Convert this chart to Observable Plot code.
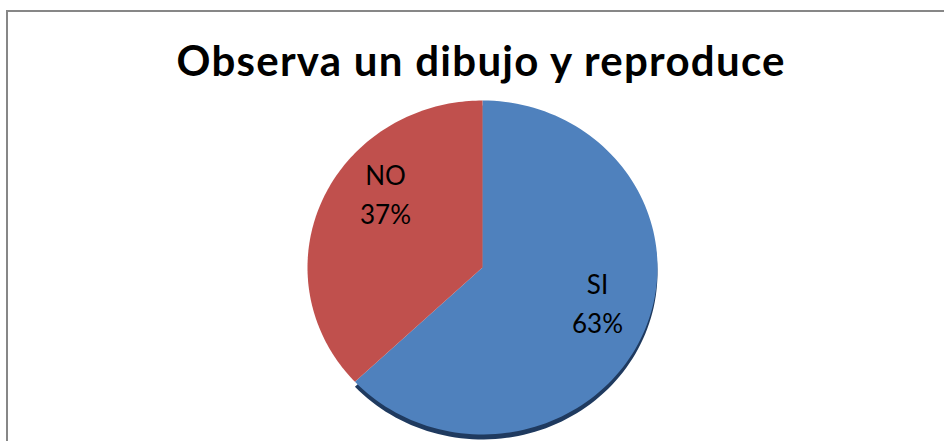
<!DOCTYPE html>
<html>
<head>
<meta charset="utf-8">
<script src="https://cdn.jsdelivr.net/npm/d3@7"></script>
<script src="https://cdn.jsdelivr.net/npm/@observablehq/plot@0.6"></script>
<style>
  html, body { margin: 0; padding: 0; background: #fff; overflow: hidden; width: 944px; height: 441px; }
  #frame { position: absolute; left: 6px; top: 10px; width: 1200px; height: 800px; border: 2px solid #878787; box-sizing: border-box; }
  #chart { position: absolute; left: 0; top: 0; }
</style>
</head>
<body>
<div id="frame"></div>
<div id="chart"></div>
<script>
const title = "Observa un dibujo y reproduce";
const categories = ["SI", "NO"];
const values = [63, 37];
const percentLabels = ["63%", "37%"];
const colors = ["#4F81BD", "#C0504D"];
const sideColor = "#1F3A5F";

const W = 944, H = 441;
const cx = 482, cy = 267, rx = 175, ry = 167;

const arcs = d3.pie().sort(null)(values);
const slices = [];
arcs.forEach((a, i) => {
  slices.push({cat: categories[i], x: 0, y: 0});
  const n = 120;
  for (let k = 0; k <= n; k++) {
    const t = a.startAngle + (a.endAngle - a.startAngle) * k / n;
    slices.push({cat: categories[i], x: Math.sin(t), y: Math.cos(t)});
  }
});
const labels = arcs.map((a, i) => {
  const m = (a.startAngle + a.endAngle) / 2;
  return {cat: categories[i], x: 0.66 * Math.sin(m), y: 0.815 * Math.cos(m), text: categories[i] + "\n" + percentLabels[i]};
});

const chart = Plot.plot({
  width: W, height: H,
  margin: 0,
  x: {domain: [-cx / rx, (W - cx) / rx], range: [0, W], axis: null},
  y: {domain: [cy / ry, -(H - cy) / ry], range: [0, H], axis: null},
  color: {domain: categories, range: colors},
  style: {background: "transparent", overflow: "visible"},
  marks: [
    Plot.line(slices.filter(d => d.cat === "SI"), {x: "x", y: "y", fill: sideColor, stroke: "none", dy: 5, curve: "linear"}),
    Plot.line(slices, {x: "x", y: "y", z: "cat", fill: "cat", stroke: "none", curve: "linear"}),
    Plot.text(labels, {x: "x", y: "y", text: "text", dx: 9, dy: -21, fontSize: 26, lineHeight: 1.5, fill: "#000", fontFamily: "Lato"}),
    Plot.text([title], {frameAnchor: "top", dy: 75, lineAnchor: "bottom", text: d => d, fontSize: 42, fontWeight: "bold", fontFamily: "Lato", fill: "#000", dx: 8, className: "ttl"})
  ]
});
document.getElementById("chart").appendChild(chart);
d3.select(chart).selectAll("g.ttl text").attr("textLength", 608).attr("lengthAdjust", "spacing");
</script>
</body>
</html>
